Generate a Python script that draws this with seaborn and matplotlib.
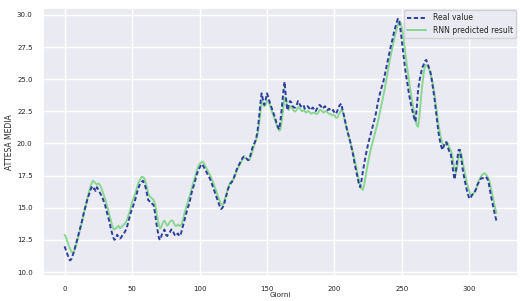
import numpy as np
import pandas as pd
import seaborn as sns
import matplotlib
matplotlib.use("Agg")
import matplotlib.pyplot as plt

# valori (un valore per giorno)
real_value = [
    12.0, 11.7, 11.4, 11.1, 10.9, 11.0, 11.3, 11.6, 12.0, 12.4,
    12.8, 13.2, 13.6, 14.0, 14.5, 14.9, 15.3, 15.7, 16.0, 16.3,
    16.6, 16.4, 16.5, 16.3, 16.6, 16.4, 16.2, 16.0, 15.8, 15.5,
    15.2, 14.8, 14.4, 14.0, 13.5, 13.1, 12.7, 12.5, 12.6, 12.9,
    12.7, 12.6, 12.7, 12.9, 13.0, 13.2, 13.4, 13.8, 14.2, 14.6,
    14.9, 15.2, 15.5, 15.9, 16.3, 16.6, 16.9, 17.0, 17.1, 16.9,
    16.6, 16.1, 15.6, 15.5, 15.5, 15.3, 15.2, 14.6, 13.8, 13.2,
    12.6, 12.5, 12.9, 13.1, 13.3, 12.9, 12.8, 13.0, 13.1, 13.3,
    13.3, 13.0, 12.8, 12.9, 13.0, 12.8, 12.9, 13.3, 13.7, 14.1,
    14.5, 14.9, 15.2, 15.6, 16.1, 16.5, 16.8, 17.2, 17.6, 17.9,
    18.1, 18.3, 18.4, 18.2, 18.0, 17.8, 17.6, 17.4, 17.2, 16.9,
    16.6, 16.3, 16.0, 15.7, 15.4, 15.1, 14.9, 15.0, 15.2, 15.6,
    16.0, 16.4, 16.7, 16.9, 17.0, 17.2, 17.5, 17.8, 18.1, 18.3,
    18.5, 18.7, 18.9, 19.0, 18.9, 18.8, 18.7, 18.8, 19.2, 19.6,
    19.9, 20.1, 20.4, 21.0, 21.9, 23.0, 23.9, 23.4, 23.0, 23.4,
    23.9, 23.6, 23.2, 22.9, 22.6, 22.3, 22.0, 21.6, 21.3, 21.1,
    21.8, 22.8, 23.9, 24.8, 23.6, 22.6, 22.9, 23.3, 23.2, 22.9,
    22.8, 22.8, 23.0, 23.3, 23.1, 22.9, 22.9, 23.0, 22.7, 22.8,
    22.9, 22.8, 22.6, 22.7, 22.8, 22.6, 22.5, 22.7, 22.9, 23.0,
    22.9, 22.7, 22.8, 22.9, 22.7, 22.6, 22.7, 22.6, 22.5, 22.6,
    22.4, 22.3, 22.5, 22.8, 23.0, 23.1, 22.6, 22.2, 21.7, 21.2,
    20.8, 20.4, 20.0, 19.5, 19.0, 18.4, 17.9, 17.4, 16.9, 16.6,
    17.1, 17.8, 18.4, 19.0, 19.5, 20.0, 20.4, 20.8, 21.2, 21.6,
    22.0, 22.5, 23.1, 23.6, 24.0, 24.4, 24.7, 25.2, 25.7, 26.2,
    26.7, 27.2, 27.7, 28.1, 28.6, 29.0, 29.4, 29.7, 29.5, 28.8,
    27.9, 27.0, 26.1, 25.3, 24.7, 24.0, 23.4, 22.9, 22.4, 22.0,
    21.7, 22.8, 24.2, 24.9, 25.4, 25.9, 26.1, 26.4, 26.5, 26.2,
    25.9, 25.6, 25.0, 24.3, 23.6, 22.7, 21.8, 20.9, 20.3, 19.8,
    19.5, 19.8, 20.1, 20.1, 19.7, 19.4, 19.3, 18.6, 17.8, 17.2,
    17.9, 18.8, 19.5, 19.5, 18.8, 18.0, 17.4, 16.9, 16.4, 16.0,
    15.7, 15.8, 16.0, 16.1, 16.2, 16.5, 16.8, 17.0, 17.2, 17.3,
    17.3, 17.4, 17.4, 17.3, 17.1, 16.5, 15.9, 15.4, 14.9, 14.4,
    14.0,
]

rnn_predicted = [
    12.9, 12.7, 12.4, 12.1, 11.8, 11.6, 11.5, 11.6, 11.9, 12.3,
    12.7, 13.1, 13.5, 14.0, 14.4, 14.9, 15.3, 15.8, 16.2, 16.6,
    16.9, 17.1, 17.0, 16.9, 16.8, 16.9, 16.8, 16.6, 16.3, 16.0,
    15.7, 15.3, 14.9, 14.5, 14.1, 13.7, 13.4, 13.3, 13.4, 13.5,
    13.6, 13.4, 13.5, 13.6, 13.7, 13.8, 14.0, 14.3, 14.6, 15.0,
    15.4, 15.7, 16.0, 16.3, 16.7, 17.0, 17.2, 17.4, 17.4, 17.3,
    17.0, 16.6, 16.1, 15.9, 15.8, 15.7, 15.6, 15.3, 14.7, 14.1,
    13.6, 13.4, 13.6, 13.9, 14.0, 13.8, 13.6, 13.7, 13.9, 14.0,
    14.0, 13.8, 13.6, 13.6, 13.7, 13.6, 13.6, 13.8, 14.2, 14.6,
    15.0, 15.3, 15.7, 16.0, 16.4, 16.8, 17.2, 17.5, 17.9, 18.2,
    18.4, 18.5, 18.6, 18.5, 18.3, 18.1, 17.9, 17.7, 17.5, 17.2,
    17.0, 16.7, 16.4, 16.1, 15.8, 15.5, 15.3, 15.2, 15.4, 15.8,
    16.1, 16.5, 16.8, 17.0, 17.1, 17.2, 17.4, 17.7, 18.0, 18.2,
    18.4, 18.6, 18.8, 18.9, 18.9, 18.8, 18.7, 18.7, 19.0, 19.3,
    19.7, 20.0, 20.3, 20.7, 21.4, 22.3, 23.1, 23.2, 22.9, 23.0,
    23.3, 23.3, 23.0, 22.7, 22.4, 22.1, 21.8, 21.5, 21.2, 21.0,
    21.1, 21.8, 22.7, 23.6, 23.5, 22.8, 22.6, 22.8, 22.9, 22.7,
    22.5, 22.5, 22.6, 22.8, 22.8, 22.6, 22.5, 22.6, 22.5, 22.4,
    22.5, 22.5, 22.4, 22.3, 22.4, 22.4, 22.3, 22.3, 22.4, 22.6,
    22.6, 22.5, 22.4, 22.5, 22.5, 22.4, 22.3, 22.3, 22.2, 22.2,
    22.2, 22.0, 22.0, 22.2, 22.4, 22.6, 22.5, 22.1, 21.6, 21.2,
    20.8, 20.4, 20.0, 19.6, 19.2, 18.7, 18.2, 17.7, 17.2, 16.8,
    16.5, 16.4, 16.8, 17.4, 18.0, 18.6, 19.1, 19.6, 20.0, 20.4,
    20.8, 21.2, 21.6, 22.1, 22.6, 23.1, 23.6, 24.1, 24.7, 25.3,
    25.9, 26.5, 27.0, 27.5, 28.0, 28.5, 28.9, 29.3, 29.5, 29.4,
    29.0, 28.3, 27.5, 26.6, 25.8, 25.0, 24.3, 23.6, 23.0, 22.4,
    21.9, 21.4, 21.3, 22.2, 23.4, 24.5, 25.4, 26.0, 26.1, 26.0,
    25.8, 25.5, 25.1, 24.6, 23.9, 23.1, 22.3, 21.5, 20.9, 20.4,
    20.0, 19.8, 19.9, 20.1, 20.0, 19.7, 19.5, 19.2, 18.6, 18.0,
    17.7, 18.2, 18.9, 19.3, 19.2, 18.6, 18.0, 17.5, 17.0, 16.6,
    16.2, 16.0, 16.0, 16.1, 16.3, 16.5, 16.8, 17.1, 17.3, 17.5,
    17.6, 17.7, 17.6, 17.5, 17.3, 17.0, 16.5, 16.0, 15.5, 15.0,
    14.6,
]

giorni = np.arange(len(real_value))

df = pd.DataFrame({"giorni": giorni, "real": real_value, "pred": rnn_predicted})

sns.set_theme(style="darkgrid")
plt.rcParams["font.family"] = ["DejaVu Sans"]

fig, ax = plt.subplots(figsize=(5.2, 3.01), dpi=100)
fig.subplots_adjust(left=43 / 520, right=518 / 520, top=1 - 8 / 301, bottom=1 - 276 / 301)

sns.lineplot(data=df, x="giorni", y="pred", ax=ax, color="#8ad792", linewidth=1.4,
             label="RNN predicted result", zorder=2)
sns.lineplot(data=df, x="giorni", y="real", ax=ax, color="#2c3f9c", linewidth=1.4,
             label="Real value", zorder=3)
ax.lines[1].set_linestyle((0, (2.2, 1.3)))

ax.set_ylim(9.69, 30.54)
ax.set_yticks([10.0, 12.5, 15.0, 17.5, 20.0, 22.5, 25.0, 27.5, 30.0])
ax.set_yticklabels([f"{v:.1f}" for v in ax.get_yticks()])
ax.tick_params(labelsize=5, pad=1.5)
ax.set_xlabel("Giorni", fontsize=5.2, labelpad=0)
ax.set_ylabel("ATTESA MEDIA", fontsize=5.5, labelpad=2)

handles, labels = ax.get_legend_handles_labels()
leg = ax.legend(handles[::-1], labels[::-1], loc="upper right", fontsize=5.5,
                borderaxespad=0.3, handlelength=2.5)
leg.legend_handles[0].set_linestyle((0, (2.2, 1.3)))

plt.savefig("out.png", dpi=100)
